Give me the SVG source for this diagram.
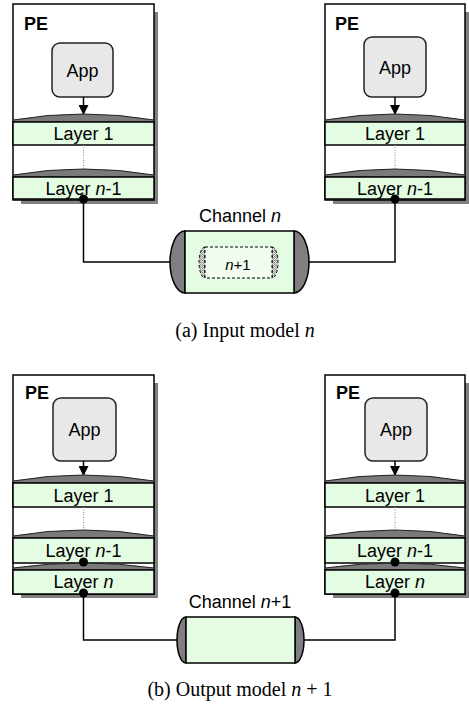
<svg xmlns="http://www.w3.org/2000/svg" width="469" height="715" viewBox="0 0 469 715">
  <style>
    .shadow { fill: #808080; }
    .box { fill: #ffffff; stroke: #000; stroke-width: 1.5; }
    .app { fill: #e8e8e8; stroke: #222; stroke-width: 1.5; }
    .layer { fill: #e4fce2; stroke: #000; stroke-width: 1.5; }
    .cap { fill: #7a7a7a; stroke: #222; stroke-width: 1; }
    .chcap { fill: #7f7f7f; stroke: #000; stroke-width: 1.5; }
    .wire { fill: none; stroke: #000; stroke-width: 1.5; }
    .dotted { fill: none; stroke: #888; stroke-width: 1; stroke-dasharray: 1 1.5; }
    .pin { fill: #000; }
    .t { font-family: "Liberation Sans", Arial, sans-serif; font-size: 18px; fill: #000; text-anchor: middle; }
    .pe { font-family: "Liberation Sans", Arial, sans-serif; font-size: 18px; font-weight: bold; fill: #000; }
    .cap-text { font-family: "Liberation Serif", "Times New Roman", serif; font-size: 20px; fill: #000; text-anchor: middle; }
    .ghost { fill: #f3fcf1; stroke: #000; stroke-width: 1; stroke-dasharray: 3 2; }
    .ghostcap { fill: url(#stipple); stroke: #000; stroke-width: 1; stroke-dasharray: 3 2; }
  </style>
  <defs>
    <pattern id="stipple" width="2" height="2" patternUnits="userSpaceOnUse">
      <rect width="2" height="2" fill="#dcdcdc"/>
      <rect width="1" height="1" fill="#8c8c8c"/>
      <rect x="1" y="1" width="1" height="1" fill="#a8a8a8"/>
    </pattern>
    <marker id="arrow" viewBox="0 0 10 10" refX="10" refY="5" markerWidth="10" markerHeight="10" markerUnits="userSpaceOnUse" orient="auto">
      <path d="M0,0 L10,5 L0,10 Z" fill="#000"/>
    </marker>
  </defs>

  <!-- ===== (a) Input model n ===== -->
  <g id="pe-a-left">
    <rect class="shadow" x="21" y="12" width="137" height="192"/>
    <rect class="box" x="13" y="4" width="141" height="196"/>
    <text class="pe" x="24" y="30">PE</text>
    <rect class="app" x="52" y="43" width="61" height="54" rx="8"/>
    <text class="t" x="82.5" y="76.5">App</text>
    <line class="wire" x1="83.5" y1="97" x2="83.5" y2="115" marker-end="url(#arrow)"/>
    <path class="cap" d="M13,122 V120 Q83.5,108 154,120 V122 Z"/>
    <rect class="layer" x="13" y="122" width="141" height="23"/>
    <text class="t" x="83.5" y="140">Layer 1</text>
    <line class="dotted" x1="83.5" y1="145" x2="83.5" y2="169"/>
    <path class="cap" d="M13,177 V175 Q83.5,163 154,175 V177 Z"/>
    <rect class="layer" x="13" y="177" width="141" height="22"/>
    <text class="t" x="83.5" y="194.5">Layer <tspan font-style="italic">n</tspan>-1</text>
  </g>

  <g id="pe-a-right">
    <rect class="shadow" x="333" y="12" width="136" height="192"/>
    <rect class="box" x="325" y="4" width="140" height="196"/>
    <text class="pe" x="335" y="30">PE</text>
    <rect class="app" x="364" y="37" width="62" height="60" rx="8"/>
    <text class="t" x="395" y="73.5">App</text>
    <line class="wire" x1="395" y1="97" x2="395" y2="115" marker-end="url(#arrow)"/>
    <path class="cap" d="M325,122 V120 Q395,108 465,120 V122 Z"/>
    <rect class="layer" x="325" y="122" width="140" height="23"/>
    <text class="t" x="395" y="140">Layer 1</text>
    <line class="dotted" x1="395" y1="145" x2="395" y2="169"/>
    <path class="cap" d="M325,177 V175 Q395,163 465,175 V177 Z"/>
    <rect class="layer" x="325" y="177" width="140" height="22"/>
    <text class="t" x="395" y="194.5">Layer <tspan font-style="italic">n</tspan>-1</text>
  </g>

  <g id="channel-a">
    <text class="t" x="240" y="222">Channel <tspan font-style="italic">n</tspan></text>
    <path class="chcap" d="M185,231 A15,31 0 0 0 185,293 Z"/>
    <path class="chcap" d="M294,231 A15,31 0 0 1 294,293 Z"/>
    <rect class="layer" x="185" y="231" width="109" height="62"/>
    <path class="ghostcap" d="M205,247 A6,15.5 0 0 0 205,278 Z"/>
    <path class="ghostcap" d="M272,247 A6,15.5 0 0 1 272,278 Z"/>
    <rect class="ghost" x="205" y="247" width="67" height="31"/>
    <text class="t" x="238" y="270" style="font-size:15px"><tspan font-style="italic">n</tspan>+1</text>
  </g>

  <text class="cap-text" x="245" y="337">(a) Input model <tspan font-style="italic">n</tspan></text>

  <!-- ===== (b) Output model n+1 ===== -->
  <g id="pe-b-left">
    <rect class="shadow" x="21" y="383" width="137" height="215"/>
    <rect class="box" x="13" y="375" width="141" height="219"/>
    <text class="pe" x="25" y="399">PE</text>
    <rect class="app" x="53" y="398" width="63" height="63" rx="8"/>
    <text class="t" x="84.5" y="436">App</text>
    <line class="wire" x1="83.5" y1="461" x2="83.5" y2="476" marker-end="url(#arrow)"/>
    <path class="cap" d="M13,483 V481 Q83.5,469 154,481 V483 Z"/>
    <rect class="layer" x="13" y="483" width="141" height="24"/>
    <text class="t" x="83.5" y="501.5">Layer 1</text>
    <line class="dotted" x1="83.5" y1="507" x2="83.5" y2="531"/>
    <path class="cap" d="M13,538 V536 Q83.5,524 154,536 V538 Z"/>
    <rect class="layer" x="13" y="538" width="141" height="25"/>
    <text class="t" x="83.5" y="556.5">Layer <tspan font-style="italic">n</tspan>-1</text>
    <path class="cap" d="M13,570 V568 Q83.5,558 154,568 V570 Z"/>
    <rect class="layer" x="13" y="570" width="141" height="24"/>
    <text class="t" x="83.5" y="588">Layer <tspan font-style="italic">n</tspan></text>
  </g>

  <g id="pe-b-right">
    <rect class="shadow" x="333" y="383" width="136" height="215"/>
    <rect class="box" x="325" y="375" width="140" height="219"/>
    <text class="pe" x="336" y="399">PE</text>
    <rect class="app" x="365" y="398" width="62" height="63" rx="8"/>
    <text class="t" x="396" y="436">App</text>
    <line class="wire" x1="395" y1="461" x2="395" y2="476" marker-end="url(#arrow)"/>
    <path class="cap" d="M325,483 V481 Q395,469 465,481 V483 Z"/>
    <rect class="layer" x="325" y="483" width="140" height="24"/>
    <text class="t" x="395" y="501.5">Layer 1</text>
    <line class="dotted" x1="395" y1="507" x2="395" y2="531"/>
    <path class="cap" d="M325,538 V536 Q395,524 465,536 V538 Z"/>
    <rect class="layer" x="325" y="538" width="140" height="25"/>
    <text class="t" x="395" y="556.5">Layer <tspan font-style="italic">n</tspan>-1</text>
    <path class="cap" d="M325,570 V568 Q395,558 465,568 V570 Z"/>
    <rect class="layer" x="325" y="570" width="140" height="24"/>
    <text class="t" x="395" y="588">Layer <tspan font-style="italic">n</tspan></text>
  </g>

  <g id="channel-b">
    <text class="t" x="240" y="608">Channel <tspan font-style="italic">n</tspan>+1</text>
    <path class="chcap" d="M186,617 A9,23 0 0 0 186,663 Z"/>
    <path class="chcap" d="M295,617 A9,23 0 0 1 295,663 Z"/>
    <rect class="layer" x="186" y="617" width="109" height="46"/>
  </g>

  <text class="cap-text" x="240" y="696">(b) Output model <tspan font-style="italic">n</tspan> + 1</text>

  <!-- connectors -->
  <g id="connectors">
    <path class="wire" d="M83.5,199 V262 H170"/>
    <path class="wire" d="M309,262 H395 V199"/>
    <path class="wire" d="M83.5,593 V640 H177"/>
    <path class="wire" d="M304,640 H395 V593"/>
    <circle class="pin" cx="83.5" cy="199" r="4.5"/>
    <circle class="pin" cx="395" cy="199" r="4.5"/>
    <circle class="pin" cx="83.5" cy="562" r="4.5"/>
    <circle class="pin" cx="395" cy="562" r="4.5"/>
    <circle class="pin" cx="83.5" cy="593" r="4.5"/>
    <circle class="pin" cx="395" cy="593" r="4.5"/>
  </g>
</svg>
